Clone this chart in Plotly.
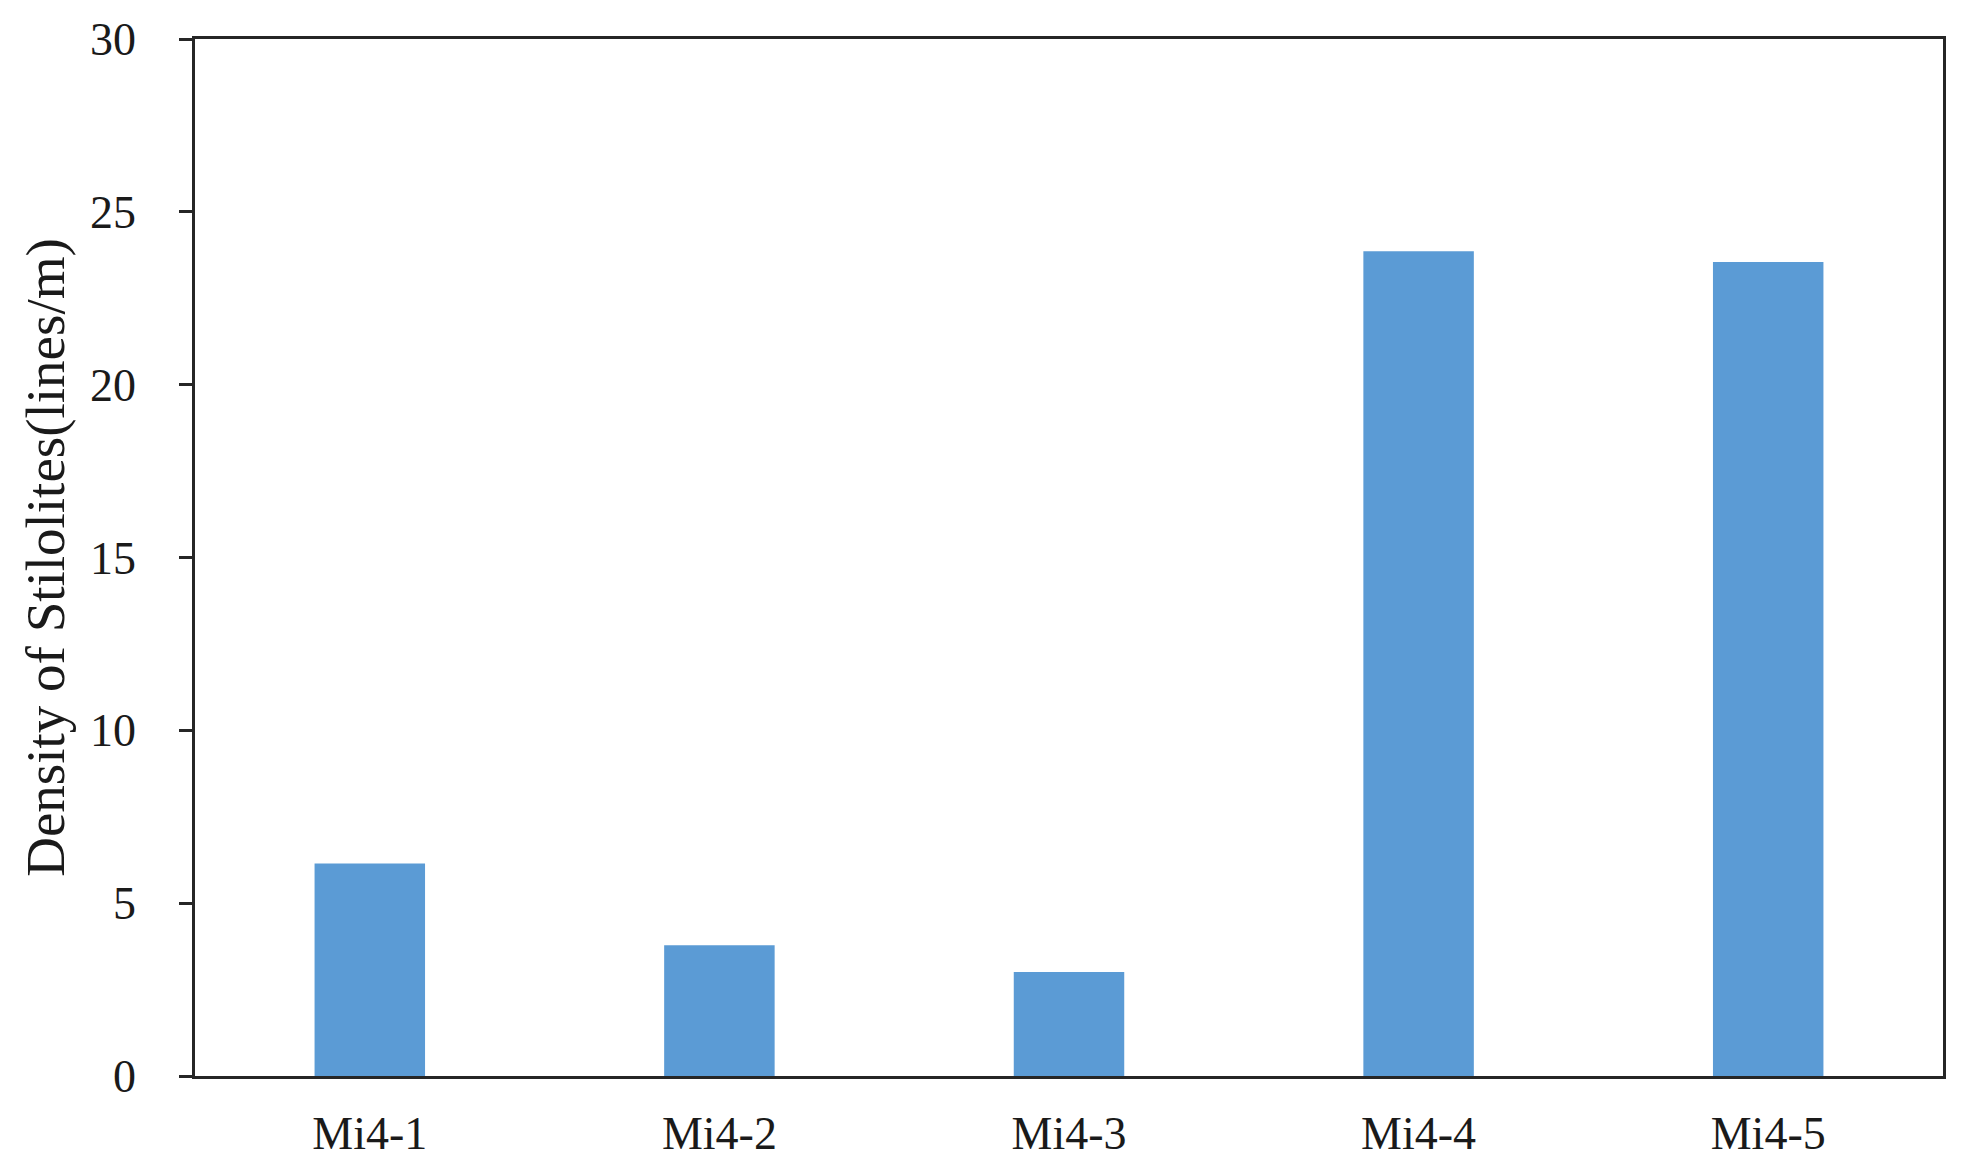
import plotly.graph_objects as go

categories = ["Mi4-1", "Mi4-2", "Mi4-3", "Mi4-4", "Mi4-5"]
density = [6.15, 3.78, 3.01, 23.86, 23.55]
y_ticks = [0, 5, 10, 15, 20, 25, 30]

font_family = "Liberation Serif, Times New Roman, serif"

fig = go.Figure()
fig.add_trace(go.Bar(
    x=categories,
    y=density,
    marker=dict(color="#5B9BD5", line=dict(width=0)),
    width=0.316,
))

fig.update_layout(
    width=1968,
    height=1168,
    paper_bgcolor="white",
    plot_bgcolor="white",
    margin=dict(l=195, r=25, t=39, b=92),
    showlegend=False,
    font=dict(family=font_family, size=46, color="#1a1a1a"),
)

fig.update_xaxes(
    showline=True, linecolor="#262626", linewidth=2.5, mirror=True,
    ticks="", showgrid=False, automargin=False,
    tickfont=dict(family=font_family, size=46, color="#1a1a1a"),
    ticklabelstandoff=15,
)
fig.update_yaxes(
    range=[0, 30],
    tickvals=y_ticks,
    showline=True, linecolor="#262626", linewidth=2.5, mirror=True,
    ticks="outside", ticklen=13, tickwidth=2.5, tickcolor="#262626",
    showgrid=False, zeroline=False, automargin=False,
    tickfont=dict(family=font_family, size=46, color="#1a1a1a"),
    ticklabelstandoff=34,
    title=dict(text="Density of Stilolites(lines/m)",
               font=dict(family=font_family, size=55, color="#1a1a1a"),
               standoff=8),
)

fig.write_html("out.html",
               config={"displayModeBar": False},
               post_script="document.body.style.margin='0';document.body.style.overflow='hidden';")
